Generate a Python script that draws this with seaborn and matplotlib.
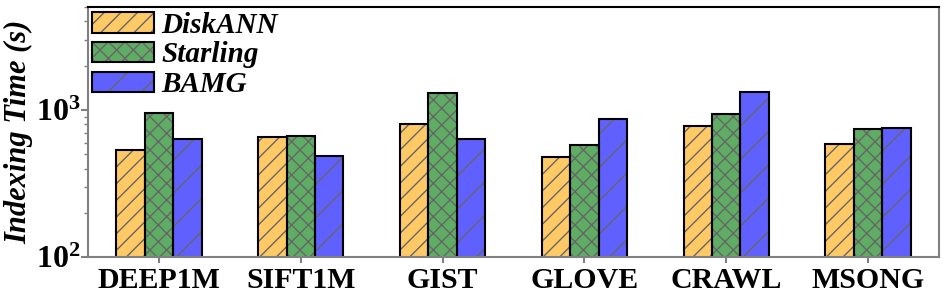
import numpy as np
import pandas as pd
import matplotlib
matplotlib.use("Agg")
import matplotlib.pyplot as plt
import seaborn as sns
from matplotlib.patches import Patch
from matplotlib.legend_handler import HandlerTuple

# data (indexing time, seconds)
datasets = ["DEEP1M", "SIFT1M", "GIST", "GLOVE", "CRAWL", "MSONG"]
methods = ["DiskANN", "Starling", "BAMG"]
diskann = [535, 658, 803, 479, 778, 584]
starling = [950, 669, 1311, 581, 935, 739]
bamg = [635, 486, 638, 873, 1319, 758]

colors = ["#FFC966", "#5FAD65", "#6060FF"]
hatches = ["//", "xx", "/"]

df = pd.DataFrame({
    "dataset": datasets * 3,
    "method": np.repeat(methods, len(datasets)),
    "time": diskann + starling + bamg,
})

sns.set_style("ticks")
plt.rcParams["font.family"] = ["Liberation Serif", "DejaVu Serif"]
plt.rcParams["text.color"] = "black"
plt.rcParams["axes.labelcolor"] = "black"
plt.rcParams["hatch.linewidth"] = 1.0

fig, ax = plt.subplots(figsize=(9.47, 2.98), dpi=100)
fig.subplots_adjust(left=0.093, right=0.9915, top=0.976, bottom=0.137)

# layer 1: fill + grey hatch
sns.barplot(data=df, x="dataset", y="time", hue="method", order=datasets,
            hue_order=methods, palette=colors, width=0.6, edgecolor="#666666",
            linewidth=0, saturation=1, legend=False, ax=ax)
for i, bar in enumerate(ax.patches):
    bar.set_hatch(hatches[i // len(datasets)])

# layer 2: black outlines
sns.barplot(data=df, x="dataset", y="time", hue="method", order=datasets,
            hue_order=methods, palette=["black"] * 3, width=0.6, fill=False,
            linewidth=1.5, legend=False, ax=ax)

ax.set_yscale("log")
ax.set_ylim(100, 5000)
ax.set_xlim(-0.5, 5.5)

ax.set_xlabel("")
ax.set_ylabel("Indexing Time (s)", fontsize=22, fontweight="bold", fontstyle="italic")
ax.yaxis.set_label_coords(-0.064, 0.5)
ax.tick_params(axis="x", labelsize=21.5, colors="#808080", labelcolor="black",
               length=4, width=1.5, pad=3)
ax.tick_params(axis="y", which="major", labelsize=23, colors="#808080",
               labelcolor="black", length=5, width=1.5, pad=0.5)
ax.tick_params(axis="y", which="minor", colors="#808080", length=3, width=1)
for lab in ax.get_xticklabels() + ax.get_yticklabels():
    lab.set_fontweight("bold")

for side in ["left", "bottom", "right"]:
    ax.spines[side].set_color("#808080")
    ax.spines[side].set_linewidth(1.5)
ax.spines["top"].set_color("black")
ax.spines["top"].set_linewidth(1.5)

handles = [(Patch(facecolor=c, edgecolor="#666666", hatch=h, linewidth=0),
            Patch(facecolor="none", edgecolor="black", linewidth=1.5))
           for c, h in zip(colors, hatches)]
ax.legend(handles, methods, handler_map={tuple: HandlerTuple(ndivide=1, pad=0)},
          loc="upper left", frameon=False,
          prop={"weight": "bold", "style": "italic", "size": 21},
          handlelength=2.1, handleheight=0.7, handletextpad=0.25, labelspacing=0.1,
          borderaxespad=0.05, borderpad=0.1)

fig.savefig("out.png", dpi=100)
